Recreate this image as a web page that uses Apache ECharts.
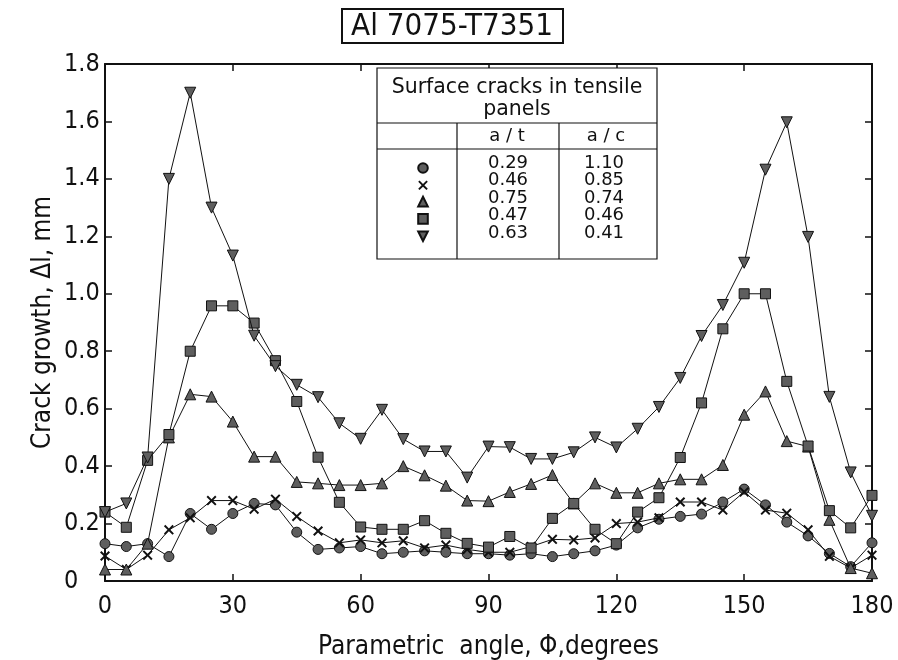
<!DOCTYPE html>
<html>
<head>
<meta charset="utf-8">
<script src="https://cdn.jsdelivr.net/npm/echarts@6/dist/echarts.min.js"></script>
<style>
html,body{margin:0;padding:0;background:#fff;}
#chart{width:898px;height:660px;}
</style>
</head>
<body>
<div id="chart"></div>
<script>
// ---- data ----
const angles = [0,5,10,15,20,25,30,35,40,45,50,55,60,65,70,75,80,85,90,95,100,105,110,115,120,125,130,135,140,145,150,155,160,165,170,175,180];
const seriesNames = ['0.29 / 1.10', '0.46 / 0.85', '0.75 / 0.74', '0.47 / 0.46', '0.63 / 0.41'];
const aOverT = ['0.29', '0.46', '0.75', '0.47', '0.63'];
const aOverC = ['1.10', '0.85', '0.74', '0.46', '0.41'];
const circleData = [0.13,0.12,0.13,0.085,0.235,0.18,0.235,0.27,0.265,0.17,0.11,0.115,0.12,0.095,0.10,0.105,0.10,0.095,0.095,0.09,0.095,0.085,0.095,0.105,0.125,0.185,0.215,0.225,0.233,0.275,0.32,0.265,0.205,0.157,0.096,0.05,0.133];
const crossData = [0.087,0.04,0.09,0.178,0.22,0.28,0.28,0.25,0.285,0.225,0.174,0.133,0.143,0.133,0.14,0.115,0.125,0.11,0.10,0.10,0.12,0.145,0.143,0.15,0.2,0.205,0.22,0.275,0.275,0.247,0.31,0.247,0.236,0.178,0.086,0.045,0.09];
const triangleData = [0.04,0.04,0.13,0.50,0.65,0.642,0.555,0.433,0.433,0.345,0.34,0.334,0.334,0.34,0.40,0.368,0.332,0.28,0.278,0.31,0.338,0.369,0.27,0.34,0.307,0.307,0.34,0.354,0.354,0.404,0.579,0.66,0.487,0.468,0.213,0.045,0.027];
const squareData = [0.24,0.187,0.42,0.51,0.80,0.958,0.958,0.898,0.767,0.625,0.431,0.274,0.188,0.18,0.18,0.21,0.166,0.131,0.118,0.155,0.115,0.218,0.27,0.18,0.13,0.24,0.29,0.43,0.62,0.878,1.0,1.0,0.695,0.47,0.245,0.185,0.298];
const invTriangleData = [0.24,0.27,0.43,1.40,1.70,1.30,1.133,0.854,0.748,0.683,0.64,0.549,0.495,0.596,0.494,0.451,0.451,0.36,0.468,0.466,0.425,0.425,0.448,0.50,0.465,0.53,0.606,0.707,0.853,0.961,1.108,1.432,1.597,1.198,0.641,0.378,0.227];
const xTicks = [0, 180, 30];   // min, max, interval
const yTicks = [0, 1.8, 0.2];  // min, max, interval

// ---- styling ----
const NARROW = '"Liberation Sans Narrow", "DejaVu Sans Condensed", "Liberation Sans", sans-serif';
const INK = '#111';
const MARK = '#5e5e5e';
const crossPath = 'path://M0,1.4L1.4,0L5,3.6L8.6,0L10,1.4L6.4,5L10,8.6L8.6,10L5,6.4L1.4,10L0,8.6L3.6,5Z';
const symbols = [
  {symbol: 'circle', rotate: 0, size: 10, fill: MARK},
  {symbol: crossPath, rotate: 0, size: 10, fill: INK},
  {symbol: 'triangle', rotate: 0, size: 11, fill: MARK},
  {symbol: 'rect', rotate: 0, size: 10, fill: MARK},
  {symbol: 'triangle', rotate: 180, size: 11, fill: MARK}
];
const allData = [circleData, crossData, triangleData, squareData, invTriangleData];

const series = allData.map((vals, i) => ({
  name: seriesNames[i],
  type: 'line',
  data: angles.map((a, j) => [a, vals[j]]),
  symbol: symbols[i].symbol,
  symbolRotate: symbols[i].rotate,
  symbolSize: symbols[i].size,
  showAllSymbol: true,
  clip: false,
  lineStyle: {color: INK, width: 1},
  itemStyle: {color: symbols[i].fill, borderColor: INK, borderWidth: i === 1 ? 0 : 1},
  emphasis: {disabled: true},
  animation: false,
  z: 2 + i
}));

// ---- table (legend box) ----
const T = {x0: 377, x1: 657, y0: 68, y1: 259, h1: 123, h2: 149, c1: 457, c2: 559};
const rowY = [163, 180.5, 198, 215.5, 233];
const tableFont = '18px "DejaVu Sans", sans-serif';
const headFont = '20.5px "DejaVu Sans", sans-serif';
const graphics = [
  // title box
  {type: 'rect', shape: {x: 342, y: 9, width: 221, height: 34}, style: {fill: '#fff', stroke: INK, lineWidth: 2}, z: 10},
  {type: 'text', x: 452, y: 27, style: {text: 'Al 7075-T7351', font: '31px ' + NARROW, fill: INK, align: 'center', verticalAlign: 'middle'}, z: 11},
  // table frame
  {type: 'rect', shape: {x: T.x0, y: T.y0, width: T.x1 - T.x0, height: T.y1 - T.y0}, style: {fill: '#fff', stroke: INK, lineWidth: 1.2}, z: 10},
  {type: 'line', shape: {x1: T.x0, y1: T.h1, x2: T.x1, y2: T.h1}, style: {stroke: INK, lineWidth: 1.2}, z: 11},
  {type: 'line', shape: {x1: T.x0, y1: T.h2, x2: T.x1, y2: T.h2}, style: {stroke: INK, lineWidth: 1.2}, z: 11},
  {type: 'line', shape: {x1: T.c1, y1: T.h1, x2: T.c1, y2: T.y1}, style: {stroke: INK, lineWidth: 1.2}, z: 11},
  {type: 'line', shape: {x1: T.c2, y1: T.h1, x2: T.c2, y2: T.y1}, style: {stroke: INK, lineWidth: 1.2}, z: 11},
  {type: 'text', x: 517, y: 88, style: {text: 'Surface cracks in tensile', font: headFont, fill: INK, align: 'center', verticalAlign: 'middle'}, z: 11},
  {type: 'text', x: 517, y: 110, style: {text: 'panels', font: headFont, fill: INK, align: 'center', verticalAlign: 'middle'}, z: 11},
  {type: 'text', x: 507, y: 136, style: {text: 'a / t', font: tableFont, fill: INK, align: 'center', verticalAlign: 'middle'}, z: 11},
  {type: 'text', x: 606, y: 136, style: {text: 'a / c', font: tableFont, fill: INK, align: 'center', verticalAlign: 'middle'}, z: 11}
];
rowY.forEach((y, i) => {
  graphics.push({type: 'text', x: 508, y: y, style: {text: aOverT[i], font: tableFont, fill: INK, align: 'center', verticalAlign: 'middle'}, z: 11});
  graphics.push({type: 'text', x: 604, y: y, style: {text: aOverC[i], font: tableFont, fill: INK, align: 'center', verticalAlign: 'middle'}, z: 11});
});

const chart = echarts.init(document.getElementById('chart'), null, {renderer: 'canvas'});
const axisLine = {show: true, onZero: false, lineStyle: {color: INK, width: 2}};
const tick = {show: true, inside: false, length: -7, lineStyle: {color: INK, width: 1.5}};
chart.setOption({
  backgroundColor: '#fff',
  animation: false,
  grid: {left: 105, right: 26, top: 64, bottom: 79, containLabel: false, outerBoundsMode: 'none'},
  legend: {
    orient: 'vertical',
    left: 409,
    top: 157,
    itemWidth: 16,
    itemHeight: 12,
    itemGap: 5.5,
    selectedMode: false,
    formatter: () => '',
    lineStyle: {opacity: 0},
    textStyle: {fontSize: 1},
    data: seriesNames,
    z: 20
  },
  xAxis: [{
    type: 'value', min: xTicks[0], max: xTicks[1], interval: xTicks[2],
    position: 'bottom',
    axisLine: axisLine,
    axisTick: tick,
    splitLine: {show: false},
    axisLabel: {color: INK, fontSize: 25, fontFamily: NARROW, margin: 13},
    name: 'Parametric  angle, \u03A6,degrees',
    nameLocation: 'middle',
    nameGap: 53,
    nameMoveOverlap: false,
    nameTextStyle: {color: INK, fontSize: 26, fontFamily: NARROW}
  }, {
    type: 'value', min: xTicks[0], max: xTicks[1], interval: xTicks[2],
    position: 'top',
    axisLine: axisLine,
    axisTick: tick,
    splitLine: {show: false},
    axisLabel: {show: false}
  }],
  yAxis: [{
    type: 'value', min: yTicks[0], max: yTicks[1], interval: yTicks[2],
    position: 'left',
    axisLine: axisLine,
    axisTick: tick,
    splitLine: {show: false},
    axisLabel: {color: INK, fontSize: 25, fontFamily: NARROW, margin: 41, align: 'left',
      formatter: v => v === 0 ? '0' : v.toFixed(1)},
    name: 'Crack growth, \u0394l, mm',
    nameLocation: 'middle',
    nameGap: 49,
    nameMoveOverlap: false,
    nameTextStyle: {color: INK, fontSize: 26, fontFamily: NARROW}
  }, {
    type: 'value', min: yTicks[0], max: yTicks[1], interval: yTicks[2],
    position: 'right',
    axisLine: axisLine,
    axisTick: tick,
    splitLine: {show: false},
    axisLabel: {show: false}
  }],
  graphic: graphics,
  series: series
});
</script>
</body>
</html>
